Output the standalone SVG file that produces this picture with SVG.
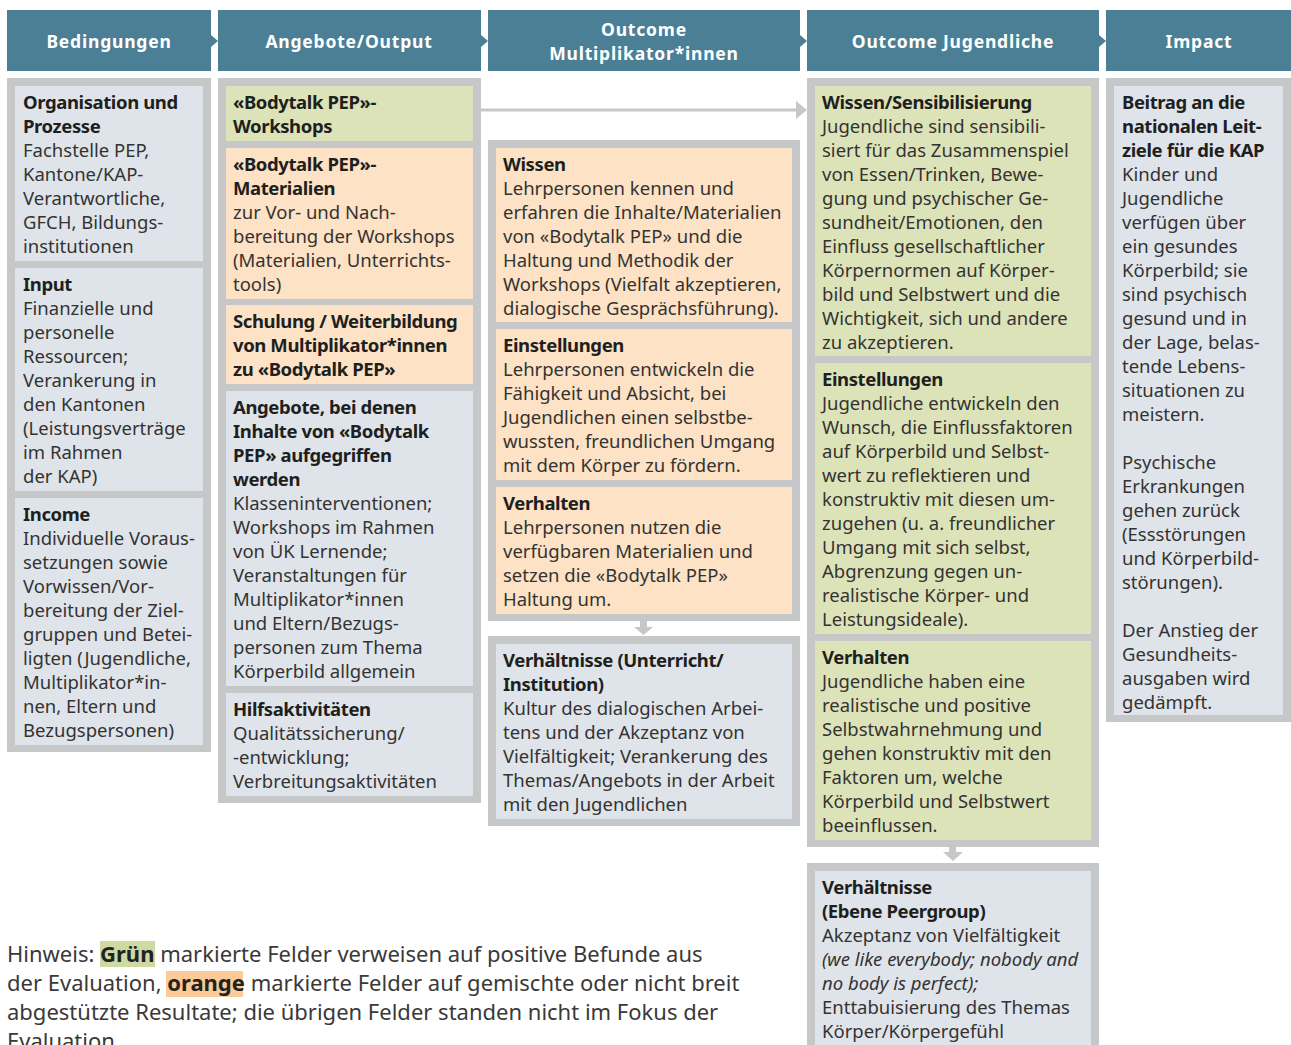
<svg xmlns="http://www.w3.org/2000/svg" width="1291" height="1045" viewBox="0 0 1291 1045">
  <style>
    .hdr { fill: #4b7f95; }
    .hd { font-family: "Noto Sans", "Liberation Sans", sans-serif; font-weight: bold; font-size: 17.5px; letter-spacing: 0.8px; fill: #ffffff; text-anchor: middle; }
    .pn { fill: #c6c7c9; }
    .bb { fill: #dfe4ea; }
    .bg { fill: #dde3b9; }
    .bo { fill: #fde2c5; }
    .t { font-family: "Noto Sans", "Liberation Sans", sans-serif; font-size: 18.5px; fill: #343332; }
    .b { font-weight: bold; fill: #201f1e; letter-spacing: -0.4px; }
    .i { font-style: italic; }
    .note { font-family: "Noto Sans", "Liberation Sans", sans-serif; font-size: 22px; fill: #3a3938; }
    .conn { fill: #c6c7c9; }
  </style>

  <!-- column headers -->
  <g id="headers">
    <rect class="hdr" x="7" y="10" width="204" height="61"/>
    <polygon class="hdr" points="211,35 218,41 211,47"/>
    <text class="hd" x="109" y="48">Bedingungen</text>

    <rect class="hdr" x="218" y="10" width="263" height="61"/>
    <polygon class="hdr" points="481,35 488,41 481,47"/>
    <text class="hd" x="349" y="48">Angebote/Output</text>

    <rect class="hdr" x="488" y="10" width="312" height="61"/>
    <polygon class="hdr" points="800,35 807,41 800,47"/>
    <text class="hd" x="644" y="36">Outcome</text>
    <text class="hd" x="644" y="60">Multiplikator*innen</text>

    <rect class="hdr" x="807" y="10" width="292" height="61"/>
    <polygon class="hdr" points="1099,35 1106,41 1099,47"/>
    <text class="hd" x="953" y="48">Outcome Jugendliche</text>

    <rect class="hdr" x="1106" y="10" width="185" height="61"/>
    <text class="hd" x="1199" y="48">Impact</text>
  </g>

  <!-- grey column panels -->
  <g id="panels">
    <rect class="pn" x="7" y="78" width="204" height="674"/>
    <rect class="pn" x="218" y="78" width="263" height="725"/>
    <rect class="pn" x="488" y="140" width="312" height="481"/>
    <rect class="pn" x="488" y="636" width="312" height="190"/>
    <rect class="pn" x="807" y="78" width="292" height="769"/>
    <rect class="pn" x="807" y="863" width="292" height="200"/>
    <rect class="pn" x="1106" y="78" width="185" height="644"/>
  </g>

  <!-- connectors -->
  <g id="connectors">
    <rect class="conn" x="481" y="108.5" width="316" height="3"/>
    <polygon class="conn" points="796,101 807,110 796,119"/>
    <rect class="conn" x="640" y="621" width="7" height="7"/>
    <polygon class="conn" points="634,627 653,627 643.5,635"/>
    <rect class="conn" x="949" y="847" width="7" height="6"/>
    <polygon class="conn" points="943,852 963,852 953,861"/>
  </g>

  <!-- Bedingungen -->
  <g id="organisation">
    <rect class="bb" x="15" y="86" width="188" height="175"/>
    <text class="t" x="23" y="109">
      <tspan class="b" x="23">Organisation und</tspan>
      <tspan class="b" x="23" dy="24">Prozesse</tspan>
      <tspan x="23" dy="24">Fachstelle PEP,</tspan>
      <tspan x="23" dy="24">Kantone/KAP-</tspan>
      <tspan x="23" dy="24">Verantwortliche,</tspan>
      <tspan x="23" dy="24">GFCH, Bildungs-</tspan>
      <tspan x="23" dy="24">institutionen</tspan>
    </text>
  </g>
  <g id="input">
    <rect class="bb" x="15" y="268" width="188" height="223"/>
    <text class="t" x="23" y="291">
      <tspan class="b" x="23">Input</tspan>
      <tspan x="23" dy="24">Finanzielle und</tspan>
      <tspan x="23" dy="24">personelle</tspan>
      <tspan x="23" dy="24">Ressourcen;</tspan>
      <tspan x="23" dy="24">Verankerung in</tspan>
      <tspan x="23" dy="24">den Kantonen</tspan>
      <tspan x="23" dy="24">(Leistungsverträge</tspan>
      <tspan x="23" dy="24">im Rahmen</tspan>
      <tspan x="23" dy="24">der KAP)</tspan>
    </text>
  </g>
  <g id="income">
    <rect class="bb" x="15" y="498" width="188" height="247"/>
    <text class="t" x="23" y="521">
      <tspan class="b" x="23">Income</tspan>
      <tspan x="23" dy="24">Individuelle Voraus-</tspan>
      <tspan x="23" dy="24">setzungen sowie</tspan>
      <tspan x="23" dy="24">Vorwissen/Vor-</tspan>
      <tspan x="23" dy="24">bereitung der Ziel-</tspan>
      <tspan x="23" dy="24">gruppen und Betei-</tspan>
      <tspan x="23" dy="24">ligten (Jugendliche,</tspan>
      <tspan x="23" dy="24">Multiplikator*in-</tspan>
      <tspan x="23" dy="24">nen, Eltern und</tspan>
      <tspan x="23" dy="24">Bezugspersonen)</tspan>
    </text>
  </g>

  <!-- Angebote/Output -->
  <g id="workshops">
    <rect class="bg" x="226" y="86" width="247" height="55"/>
    <text class="t" x="233" y="109">
      <tspan class="b" x="233">«Bodytalk PEP»-</tspan>
      <tspan class="b" x="233" dy="24">Workshops</tspan>
    </text>
  </g>
  <g id="materialien">
    <rect class="bo" x="226" y="148" width="247" height="151"/>
    <text class="t" x="233" y="171">
      <tspan class="b" x="233">«Bodytalk PEP»-</tspan>
      <tspan class="b" x="233" dy="24">Materialien</tspan>
      <tspan x="233" dy="24">zur Vor- und Nach-</tspan>
      <tspan x="233" dy="24">bereitung der Workshops</tspan>
      <tspan x="233" dy="24">(Materialien, Unterrichts-</tspan>
      <tspan x="233" dy="24">tools)</tspan>
    </text>
  </g>
  <g id="schulung">
    <rect class="bo" x="226" y="305" width="247" height="79"/>
    <text class="t" x="233" y="328">
      <tspan class="b" x="233">Schulung / Weiterbildung</tspan>
      <tspan class="b" x="233" dy="24">von Multiplikator*innen</tspan>
      <tspan class="b" x="233" dy="24">zu «Bodytalk PEP»</tspan>
    </text>
  </g>
  <g id="angebote">
    <rect class="bb" x="226" y="391" width="247" height="295"/>
    <text class="t" x="233" y="414">
      <tspan class="b" x="233">Angebote, bei denen</tspan>
      <tspan class="b" x="233" dy="24">Inhalte von «Bodytalk</tspan>
      <tspan class="b" x="233" dy="24">PEP» aufgegriffen</tspan>
      <tspan class="b" x="233" dy="24">werden</tspan>
      <tspan x="233" dy="24">Klasseninterventionen;</tspan>
      <tspan x="233" dy="24">Workshops im Rahmen</tspan>
      <tspan x="233" dy="24">von ÜK Lernende;</tspan>
      <tspan x="233" dy="24">Veranstaltungen für</tspan>
      <tspan x="233" dy="24">Multiplikator*innen</tspan>
      <tspan x="233" dy="24">und Eltern/Bezugs-</tspan>
      <tspan x="233" dy="24">personen zum Thema</tspan>
      <tspan x="233" dy="24">Körperbild allgemein</tspan>
    </text>
  </g>
  <g id="hilfsaktivitaeten">
    <rect class="bb" x="226" y="693" width="247" height="103"/>
    <text class="t" x="233" y="716">
      <tspan class="b" x="233">Hilfsaktivitäten</tspan>
      <tspan x="233" dy="24">Qualitätssicherung/</tspan>
      <tspan x="233" dy="24">-entwicklung;</tspan>
      <tspan x="233" dy="24">Verbreitungsaktivitäten</tspan>
    </text>
  </g>

  <!-- Outcome Multiplikator*innen -->
  <g id="mp-wissen">
    <rect class="bo" x="496" y="148" width="296" height="174"/>
    <text class="t" x="503" y="171">
      <tspan class="b" x="503">Wissen</tspan>
      <tspan x="503" dy="24">Lehrpersonen kennen und</tspan>
      <tspan x="503" dy="24">erfahren die Inhalte/Materialien</tspan>
      <tspan x="503" dy="24">von «Bodytalk PEP» und die</tspan>
      <tspan x="503" dy="24">Haltung und Methodik der</tspan>
      <tspan x="503" dy="24">Workshops (Vielfalt akzeptieren,</tspan>
      <tspan x="503" dy="24">dialogische Gesprächsführung).</tspan>
    </text>
  </g>
  <g id="mp-einstellungen">
    <rect class="bo" x="496" y="329" width="296" height="151"/>
    <text class="t" x="503" y="352">
      <tspan class="b" x="503">Einstellungen</tspan>
      <tspan x="503" dy="24">Lehrpersonen entwickeln die</tspan>
      <tspan x="503" dy="24">Fähigkeit und Absicht, bei</tspan>
      <tspan x="503" dy="24">Jugendlichen einen selbstbe-</tspan>
      <tspan x="503" dy="24">wussten, freundlichen Umgang</tspan>
      <tspan x="503" dy="24">mit dem Körper zu fördern.</tspan>
    </text>
  </g>
  <g id="mp-verhalten">
    <rect class="bo" x="496" y="487" width="296" height="127"/>
    <text class="t" x="503" y="510">
      <tspan class="b" x="503">Verhalten</tspan>
      <tspan x="503" dy="24">Lehrpersonen nutzen die</tspan>
      <tspan x="503" dy="24">verfügbaren Materialien und</tspan>
      <tspan x="503" dy="24">setzen die «Bodytalk PEP»</tspan>
      <tspan x="503" dy="24">Haltung um.</tspan>
    </text>
  </g>
  <g id="mp-verhaeltnisse">
    <rect class="bb" x="496" y="644" width="296" height="175"/>
    <text class="t" x="503" y="667">
      <tspan class="b" x="503">Verhältnisse (Unterricht/</tspan>
      <tspan class="b" x="503" dy="24">Institution)</tspan>
      <tspan x="503" dy="24">Kultur des dialogischen Arbei-</tspan>
      <tspan x="503" dy="24">tens und der Akzeptanz von</tspan>
      <tspan x="503" dy="24">Vielfältigkeit; Verankerung des</tspan>
      <tspan x="503" dy="24">Themas/Angebots in der Arbeit</tspan>
      <tspan x="503" dy="24">mit den Jugendlichen</tspan>
    </text>
  </g>

  <!-- Outcome Jugendliche -->
  <g id="jg-wissen">
    <rect class="bg" x="815" y="86" width="276" height="270"/>
    <text class="t" x="822" y="109">
      <tspan class="b" x="822">Wissen/Sensibilisierung</tspan>
      <tspan x="822" dy="24">Jugendliche sind sensibili-</tspan>
      <tspan x="822" dy="24">siert für das Zusammenspiel</tspan>
      <tspan x="822" dy="24">von Essen/Trinken, Bewe-</tspan>
      <tspan x="822" dy="24">gung und psychischer Ge-</tspan>
      <tspan x="822" dy="24">sundheit/Emotionen, den</tspan>
      <tspan x="822" dy="24">Einfluss gesellschaftlicher</tspan>
      <tspan x="822" dy="24">Körpernormen auf Körper-</tspan>
      <tspan x="822" dy="24">bild und Selbstwert und die</tspan>
      <tspan x="822" dy="24">Wichtigkeit, sich und andere</tspan>
      <tspan x="822" dy="24">zu akzeptieren.</tspan>
    </text>
  </g>
  <g id="jg-einstellungen">
    <rect class="bg" x="815" y="363" width="276" height="271"/>
    <text class="t" x="822" y="386">
      <tspan class="b" x="822">Einstellungen</tspan>
      <tspan x="822" dy="24">Jugendliche entwickeln den</tspan>
      <tspan x="822" dy="24">Wunsch, die Einflussfaktoren</tspan>
      <tspan x="822" dy="24">auf Körperbild und Selbst-</tspan>
      <tspan x="822" dy="24">wert zu reflektieren und</tspan>
      <tspan x="822" dy="24">konstruktiv mit diesen um-</tspan>
      <tspan x="822" dy="24">zugehen (u. a. freundlicher</tspan>
      <tspan x="822" dy="24">Umgang mit sich selbst,</tspan>
      <tspan x="822" dy="24">Abgrenzung gegen un-</tspan>
      <tspan x="822" dy="24">realistische Körper- und</tspan>
      <tspan x="822" dy="24">Leistungsideale).</tspan>
    </text>
  </g>
  <g id="jg-verhalten">
    <rect class="bg" x="815" y="641" width="276" height="199"/>
    <text class="t" x="822" y="664">
      <tspan class="b" x="822">Verhalten</tspan>
      <tspan x="822" dy="24">Jugendliche haben eine</tspan>
      <tspan x="822" dy="24">realistische und positive</tspan>
      <tspan x="822" dy="24">Selbstwahrnehmung und</tspan>
      <tspan x="822" dy="24">gehen konstruktiv mit den</tspan>
      <tspan x="822" dy="24">Faktoren um, welche</tspan>
      <tspan x="822" dy="24">Körperbild und Selbstwert</tspan>
      <tspan x="822" dy="24">beeinflussen.</tspan>
    </text>
  </g>
  <g id="jg-verhaeltnisse">
    <rect class="bb" x="815" y="871" width="276" height="185"/>
    <text class="t" x="822" y="894">
      <tspan class="b" x="822">Verhältnisse</tspan>
      <tspan class="b" x="822" dy="24">(Ebene Peergroup)</tspan>
      <tspan x="822" dy="24">Akzeptanz von Vielfältigkeit</tspan>
      <tspan class="i" x="822" dy="24">(we like everybody; nobody and</tspan>
      <tspan class="i" x="822" dy="24">no body is perfect);</tspan>
      <tspan x="822" dy="24">Enttabuisierung des Themas</tspan>
      <tspan x="822" dy="24">Körper/Körpergefühl</tspan>
    </text>
  </g>

  <!-- Impact -->
  <g id="impact">
    <rect class="bb" x="1114" y="86" width="169" height="629"/>
    <text class="t" x="1122" y="109">
      <tspan class="b" x="1122">Beitrag an die</tspan>
      <tspan class="b" x="1122" dy="24">nationalen Leit-</tspan>
      <tspan class="b" x="1122" dy="24">ziele für die KAP</tspan>
      <tspan x="1122" dy="24">Kinder und</tspan>
      <tspan x="1122" dy="24">Jugendliche</tspan>
      <tspan x="1122" dy="24">verfügen über</tspan>
      <tspan x="1122" dy="24">ein gesundes</tspan>
      <tspan x="1122" dy="24">Körperbild; sie</tspan>
      <tspan x="1122" dy="24">sind psychisch</tspan>
      <tspan x="1122" dy="24">gesund und in</tspan>
      <tspan x="1122" dy="24">der Lage, belas-</tspan>
      <tspan x="1122" dy="24">tende Lebens-</tspan>
      <tspan x="1122" dy="24">situationen zu</tspan>
      <tspan x="1122" dy="24">meistern.</tspan>
      <tspan x="1122" dy="48">Psychische</tspan>
      <tspan x="1122" dy="24">Erkrankungen</tspan>
      <tspan x="1122" dy="24">gehen zurück</tspan>
      <tspan x="1122" dy="24">(Essstörungen</tspan>
      <tspan x="1122" dy="24">und Körperbild-</tspan>
      <tspan x="1122" dy="24">störungen).</tspan>
      <tspan x="1122" dy="48">Der Anstieg der</tspan>
      <tspan x="1122" dy="24">Gesundheits-</tspan>
      <tspan x="1122" dy="24">ausgaben wird</tspan>
      <tspan x="1122" dy="24">gedämpft.</tspan>
    </text>
  </g>

  <!-- legend note with highlighted colour words -->
  <g id="note">
    <rect x="100" y="941" width="55" height="26" fill="#cfd9a2"/>
    <rect x="166" y="971" width="77" height="26" fill="#fcca96"/>
    <text class="note" x="7" y="962">Hinweis: <tspan font-weight="bold" fill="#222">Grün</tspan> markierte Felder verweisen auf positive Befunde aus</text>
    <text class="note" x="7" y="991">der Evaluation, <tspan font-weight="bold" fill="#222">orange</tspan> markierte Felder auf gemischte oder nicht breit</text>
    <text class="note" x="7" y="1020">abgestützte Resultate; die übrigen Felder standen nicht im Fokus der</text>
    <text class="note" x="7" y="1049">Evaluation.</text>
  </g>
</svg>
